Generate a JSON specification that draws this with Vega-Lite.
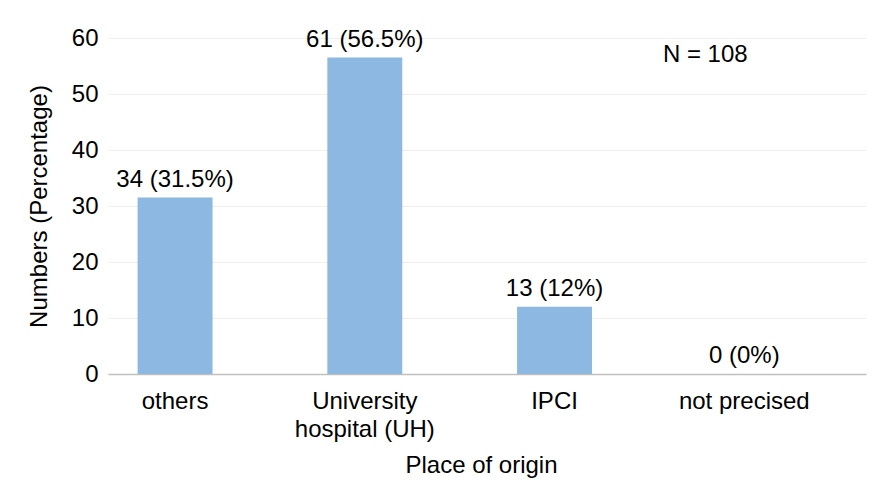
{
  "$schema": "https://vega.github.io/schema/vega-lite/v6.json",
  "width": 758,
  "height": 336,
  "autosize": {"type": "none"},
  "padding": {"left": 108, "top": 38, "right": 17, "bottom": 112},
  "background": "white",
  "config": {
    "font": "Liberation Sans",
    "view": {"stroke": null},
    "axis": {"labelFont": "Liberation Sans", "titleFont": "Liberation Sans", "labelColor": "#000", "titleColor": "#000", "titleFontWeight": "normal", "labelFontSize": 24, "titleFontSize": 24}
  },
  "data": {
    "values": [
      {"place": "others", "n": 34, "pct": 31.5, "label": "34 (31.5%)"},
      {"place": "University hospital (UH)", "n": 61, "pct": 56.5, "label": "61 (56.5%)"},
      {"place": "IPCI", "n": 13, "pct": 12, "label": "13 (12%)"},
      {"place": "not precised", "n": 0, "pct": 0, "label": "0 (0%)"}
    ]
  },
  "encoding": {
    "x": {
      "field": "place", "type": "nominal", "sort": null,
      "scale": {"paddingInner": 0.605, "paddingOuter": 0.3, "align": 0.26},
      "axis": {
        "title": "Place of origin", "labelAngle": 0, "ticks": false,
        "domainColor": "#c0c0c0", "domainWidth": 1.5, "grid": false,
        "labelPadding": 15, "labelLineHeight": 28, "labelLimit": 300,
        "titlePadding": 12, "titleX": 373,
        "labelExpr": "datum.label == 'University hospital (UH)' ? ['University', 'hospital (UH)'] : datum.label"
      }
    },
    "y": {
      "field": "pct", "type": "quantitative",
      "scale": {"domain": [0, 60], "nice": false},
      "axis": {
        "title": "Numbers (Percentage)", "values": [0, 10, 20, 30, 40, 50, 60],
        "domain": false, "ticks": false, "gridColor": "#efefef", "gridWidth": 1,
        "labelPadding": 10, "titlePadding": 20
      }
    }
  },
  "layer": [
    {"mark": {"type": "bar", "color": "#8db8e2"}},
    {"mark": {"type": "text", "baseline": "bottom", "dy": -6, "fontSize": 24, "color": "#000"},
     "encoding": {"text": {"field": "label"}}},
    {
      "data": {"values": [{"place": "not precised", "y": 57, "txt": "N = 108"}]},
      "mark": {"type": "text", "baseline": "middle", "dx": -39, "fontSize": 24, "color": "#000"},
      "encoding": {
        "x": {"field": "place", "type": "nominal"},
        "y": {"field": "y", "type": "quantitative"},
        "text": {"field": "txt"}
      }
    }
  ]
}
